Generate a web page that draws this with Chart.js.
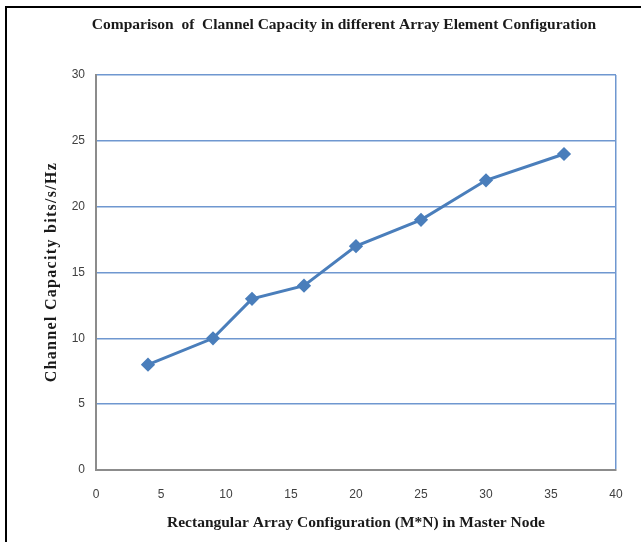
<!DOCTYPE html>
<html>
<head>
<meta charset="utf-8">
<script src="https://cdn.jsdelivr.net/npm/chart.js@4/dist/chart.umd.min.js"></script>
<style>
  html, body { margin: 0; padding: 0; background: #fff; overflow: hidden; }
  #wrap { position: relative; width: 641px; height: 542px; }
  #frame { position: absolute; left: 5px; top: 6px; width: 700px; height: 600px;
           border-top: 2px solid #000; border-left: 2px solid #000; pointer-events: none; }
  canvas { position: absolute; left: 0; top: 0; }
</style>
</head>
<body>
<div id="wrap">
  <canvas id="capacityChart" width="641" height="542"></canvas>
  <div id="frame"></div>
</div>
<script>
// array size (M*N) and channel capacity
const arraySizes = [4, 9, 12, 16, 20, 25, 30, 36];
const capacity = [8, 10, 13, 14, 17, 19, 22, 24];
const xTicks = [0, 5, 10, 15, 20, 25, 30, 35, 40];
const yTicks = [0, 5, 10, 15, 20, 25, 30];

const chartTitle = "Comparison  of  Clannel Capacity in different Array Element Configuration";
const xTitle = "Rectangular Array Configuration (M*N) in Master Node";
const yTitle = "Channel Capacity bits/s/Hz";

const serif = "'Liberation Serif', 'DejaVu Serif', serif";
const sans = "'Liberation Sans', Arial, sans-serif";
const gridBlue = "#6f97d0";

const points = arraySizes.map((x, i) => ({ x: x, y: capacity[i] }));

// chart title and y-axis title are drawn by hand (off-centre title, spaced letters)
const titlesPlugin = {
    id: "titles",
    afterDraw(chart) {
        const c = chart.ctx;
        c.save();
        c.fillStyle = "#1a1a1a";
        c.textAlign = "center";
        c.textBaseline = "middle";
        c.font = "bold 15.5px " + serif;
        c.fillText(chartTitle, 344, 25);

        c.translate(52, 272);
        c.rotate(-Math.PI / 2);
        c.font = "bold 16px " + serif;
        c.letterSpacing = "1.3px";
        c.fillText(yTitle, 0, 0);
        c.restore();
    }
};

const ctx = document.getElementById("capacityChart").getContext("2d");
new Chart(ctx, {
    type: "scatter",
    data: {
        datasets: [{
            data: points,
            showLine: true,
            borderColor: "#4a7ebb",
            backgroundColor: "#4a7ebb",
            borderWidth: 3,
            tension: 0,
            pointStyle: "rectRot",
            pointRadius: 5,
            pointHoverRadius: 5
        }]
    },
    options: {
        responsive: false,
        animation: false,
        layout: { padding: { left: 0, right: 25, top: 75, bottom: 0 } },
        plugins: {
            legend: { display: false },
            tooltip: { enabled: false },
            title: { display: false }
        },
        scales: {
            x: {
                type: "linear",
                min: 0,
                max: 40,
                afterBuildTicks: (scale) => { scale.ticks = xTicks.map(v => ({ value: v })); },
                afterFit: (scale) => { scale.height = 72; },
                ticks: {
                    color: "#404040",
                    font: { family: sans, size: 12 },
                    padding: 17,
                    maxRotation: 0
                },
                grid: {
                    drawTicks: false,
                    color: (c) => c.tick && c.tick.value === 40 ? gridBlue : "rgba(0,0,0,0)",
                    lineWidth: 1.5
                },
                border: { display: true, color: "#8c8c8c", width: 2 },
                title: {
                    display: true,
                    text: xTitle,
                    color: "#1a1a1a",
                    font: { family: serif, size: 15.5, weight: "bold", lineHeight: 1.2 },
                    padding: { top: 0, bottom: 10 }
                }
            },
            y: {
                type: "linear",
                min: 0,
                max: 30,
                afterBuildTicks: (scale) => { scale.ticks = yTicks.map(v => ({ value: v })); },
                afterFit: (scale) => { scale.width = 96; },
                ticks: {
                    color: "#404040",
                    font: { family: sans, size: 12 },
                    padding: 11
                },
                grid: {
                    drawTicks: false,
                    color: gridBlue,
                    lineWidth: 1.5
                },
                border: { display: true, color: "#8c8c8c", width: 2 }
            }
        }
    },
    plugins: [titlesPlugin]
});
</script>
</body>
</html>
